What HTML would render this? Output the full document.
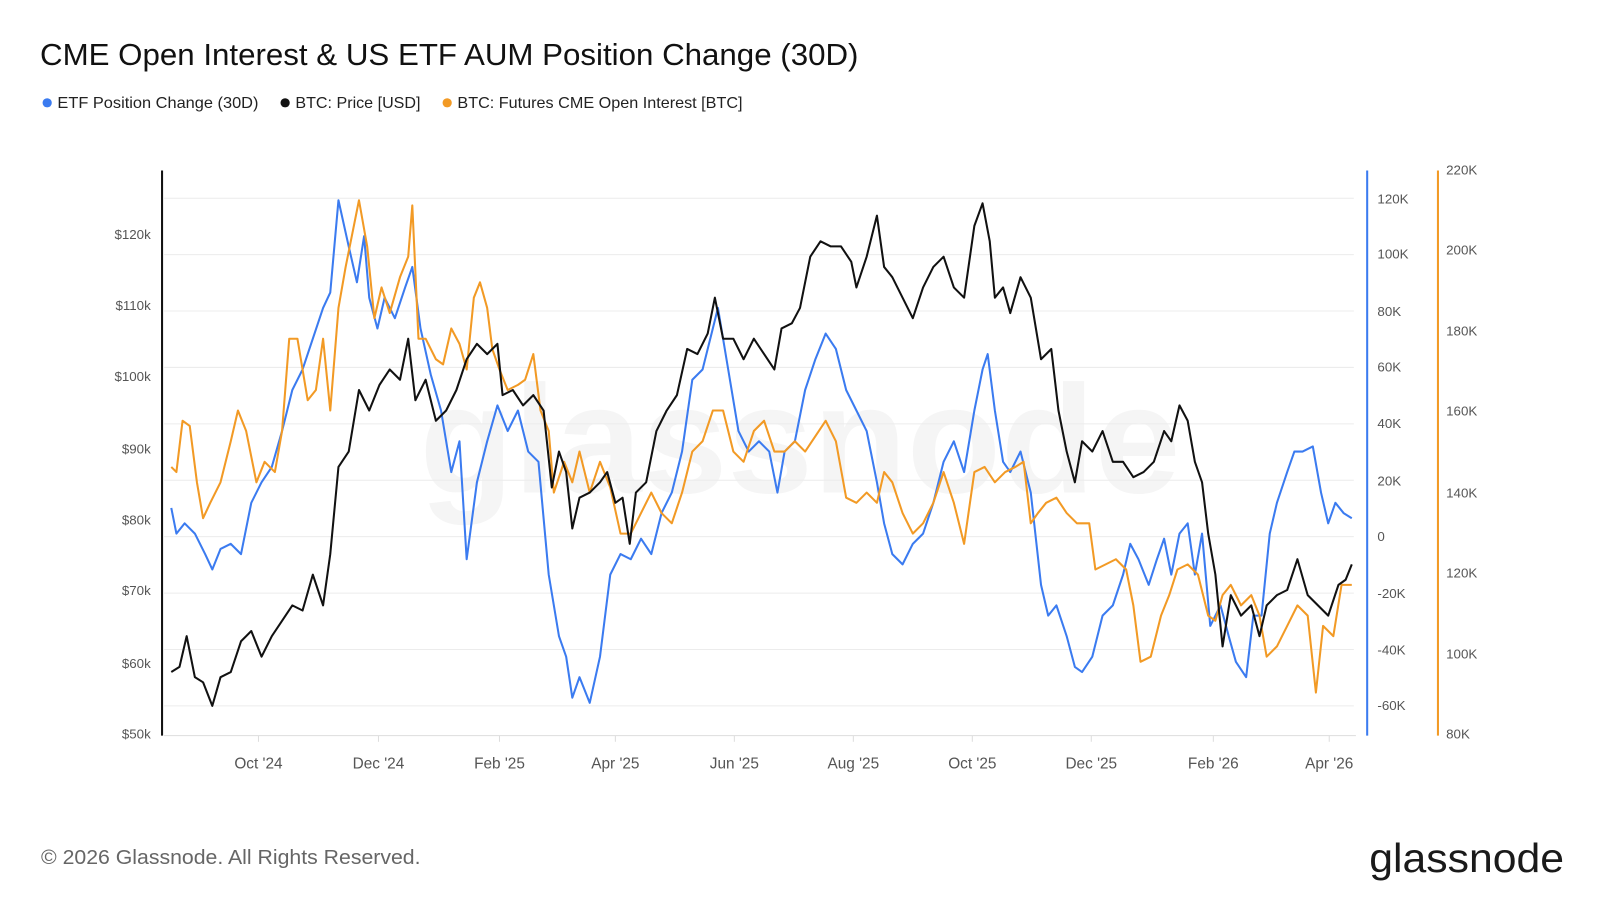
<!DOCTYPE html>
<html><head><meta charset="utf-8"><style>
html,body{margin:0;padding:0;background:#fff;width:1600px;height:900px;overflow:hidden}
svg{display:block}
text{font-family:"Liberation Sans","DejaVu Sans",sans-serif}
</style></head><body>
<svg width="1600" height="900" viewBox="0 0 1560 877" xmlns="http://www.w3.org/2000/svg">
<rect width="1560" height="877" fill="#fff"/>
<text x="39" y="63" font-size="30" fill="#111" textLength="798" lengthAdjust="spacingAndGlyphs">CME Open Interest &amp; US ETF AUM Position Change (30D)</text>
<g font-size="15" fill="#222">
<circle cx="46" cy="100" r="4.5" fill="#3b7bf0"/><text x="56" y="105" textLength="196" lengthAdjust="spacingAndGlyphs">ETF Position Change (30D)</text>
<circle cx="278" cy="100" r="4.5" fill="#111"/><text x="288" y="105" textLength="122" lengthAdjust="spacingAndGlyphs">BTC: Price [USD]</text>
<circle cx="436" cy="100" r="4.5" fill="#f29a25"/><text x="446" y="105" textLength="278" lengthAdjust="spacingAndGlyphs">BTC: Futures CME Open Interest [BTC]</text>
</g>
<text x="780" y="480" font-size="150" fill="#f5f5f5" text-anchor="middle" font-weight="bold">glassnode</text>
<g stroke="#ececec" stroke-width="1">
<line x1="160" y1="193" x2="1320" y2="193"/><line x1="160" y1="248" x2="1320" y2="248"/>
<line x1="160" y1="303" x2="1320" y2="303"/><line x1="160" y1="358" x2="1320" y2="358"/>
<line x1="160" y1="413" x2="1320" y2="413"/><line x1="160" y1="468" x2="1320" y2="468"/>
<line x1="160" y1="523" x2="1320" y2="523"/><line x1="160" y1="578" x2="1320" y2="578"/>
<line x1="160" y1="633" x2="1320" y2="633"/><line x1="160" y1="688" x2="1320" y2="688"/>
</g>
<line x1="160" y1="717" x2="1322" y2="717" stroke="#ddd"/>
<line x1="158" y1="166" x2="158" y2="717" stroke="#111" stroke-width="2"/>
<line x1="1333" y1="166" x2="1333" y2="717" stroke="#3b7bf0" stroke-width="2"/>
<line x1="1402" y1="166" x2="1402" y2="717" stroke="#f29a25" stroke-width="2"/>
<g font-size="13" fill="#555" text-anchor="end">
<text x="147" y="233">$120k</text><text x="147" y="302">$110k</text><text x="147" y="371">$100k</text>
<text x="147" y="442">$90k</text><text x="147" y="511">$80k</text><text x="147" y="580">$70k</text>
<text x="147" y="651">$60k</text><text x="147" y="720">$50k</text>
</g>
<g font-size="13" fill="#555">
<text x="1343" y="198">120K</text><text x="1343" y="252">100K</text><text x="1343" y="308">80K</text>
<text x="1343" y="362">60K</text><text x="1343" y="417">40K</text><text x="1343" y="473">20K</text>
<text x="1343" y="527">0</text><text x="1343" y="583">-20K</text><text x="1343" y="638">-40K</text>
<text x="1343" y="692">-60K</text>
<text x="1410" y="170">220K</text><text x="1410" y="248">200K</text><text x="1410" y="327">180K</text>
<text x="1410" y="405">160K</text><text x="1410" y="485">140K</text><text x="1410" y="563">120K</text>
<text x="1410" y="642">100K</text><text x="1410" y="720">80K</text>
</g>
<g font-size="15" fill="#555" text-anchor="middle">
<text x="252" y="749">Oct '24</text><text x="369" y="749">Dec '24</text><text x="487" y="749">Feb '25</text>
<text x="600" y="749">Apr '25</text><text x="716" y="749">Jun '25</text><text x="832" y="749">Aug '25</text>
<text x="948" y="749">Oct '25</text><text x="1064" y="749">Dec '25</text><text x="1183" y="749">Feb '26</text>
<text x="1296" y="749">Apr '26</text>
</g>
<g stroke="#ddd"><line x1="252" y1="717" x2="252" y2="723"/><line x1="369" y1="717" x2="369" y2="723"/><line x1="487" y1="717" x2="487" y2="723"/><line x1="600" y1="717" x2="600" y2="723"/><line x1="716" y1="717" x2="716" y2="723"/><line x1="832" y1="717" x2="832" y2="723"/><line x1="948" y1="717" x2="948" y2="723"/><line x1="1064" y1="717" x2="1064" y2="723"/><line x1="1183" y1="717" x2="1183" y2="723"/><line x1="1296" y1="717" x2="1296" y2="723"/></g>
<g fill="none" stroke-width="2" stroke-linejoin="round">
<polyline stroke="#3b7bf0" points="167,495 172,520 180,510 190,520 200,540 207,555 215,535 225,530 235,540 245,490 255,470 265,455 275,420 285,380 295,360 305,330 315,300 322,285 330,195 340,240 348,275 355,230 360,290 368,320 375,290 385,310 395,280 402,260 410,320 420,365 430,400 440,460 448,430 455,545 465,470 475,430 485,395 495,420 505,400 515,440 525,450 535,560 545,620 552,640 558,680 565,660 575,685 585,640 595,560 605,540 615,545 625,525 635,540 645,500 655,480 665,440 675,370 685,360 695,320 700,300 710,360 720,420 730,440 740,430 750,440 758,480 765,440 775,430 785,380 795,350 805,325 815,340 825,380 835,400 845,420 855,470 862,510 870,540 880,550 890,530 900,520 910,490 920,450 930,430 940,460 950,400 958,360 963,345 970,400 978,450 985,460 995,440 1005,480 1015,570 1022,600 1030,590 1040,620 1048,650 1055,655 1065,640 1075,600 1085,590 1095,560 1102,530 1110,545 1120,570 1128,545 1135,525 1142,560 1150,520 1158,510 1165,560 1172,520 1180,610 1190,590 1198,620 1205,645 1215,660 1222,600 1230,600 1238,520 1245,490 1255,460 1262,440 1270,440 1280,435 1288,480 1295,510 1302,490 1310,500 1318,505"/>
<polyline stroke="#f29a25" points="167,455 172,460 178,410 185,415 192,470 198,505 205,490 215,470 225,430 232,400 240,420 250,470 258,450 268,460 275,420 282,330 290,330 300,390 308,380 315,330 322,400 330,300 337,260 343,230 350,195 358,240 365,310 372,280 380,305 390,270 398,250 402,200 408,330 415,330 425,350 432,355 440,320 448,335 455,360 462,290 468,275 475,300 480,340 487,360 495,380 505,375 512,370 520,345 527,400 535,420 540,480 550,450 558,470 565,440 575,480 585,450 595,475 605,520 615,520 625,500 635,480 645,500 655,510 665,480 675,440 685,430 695,400 705,400 715,440 725,450 735,420 745,410 755,440 765,440 775,430 785,440 795,425 805,410 815,430 825,485 835,490 845,480 855,490 862,460 870,470 880,500 890,520 900,510 910,490 920,460 930,490 940,530 950,460 960,455 970,470 980,460 990,455 998,450 1005,510 1012,500 1020,490 1030,485 1040,500 1050,510 1062,510 1068,555 1078,550 1088,545 1098,555 1105,590 1112,645 1122,640 1132,600 1140,580 1148,555 1158,550 1168,560 1178,600 1185,605 1192,580 1200,570 1210,590 1220,580 1228,600 1235,640 1245,630 1255,610 1265,590 1275,600 1283,675 1290,610 1300,620 1308,570 1318,570"/>
<polyline stroke="#111" points="167,655 175,650 182,620 190,660 198,665 207,688 215,660 225,655 235,625 245,615 255,640 265,620 275,605 285,590 295,595 305,560 315,590 322,540 330,455 340,440 350,380 360,400 370,375 380,360 390,370 398,330 405,390 415,370 425,410 435,400 445,380 455,350 465,335 475,345 485,335 490,385 500,380 510,395 520,385 530,400 538,475 545,440 552,460 558,515 565,485 575,480 585,470 592,460 600,490 607,485 614,530 620,480 630,470 640,420 650,400 660,385 670,340 680,345 690,325 697,290 705,330 715,330 725,350 735,330 745,345 755,360 762,320 772,315 780,300 790,250 800,235 810,240 820,240 830,255 835,280 845,250 855,210 862,260 870,270 880,290 890,310 900,280 910,260 920,250 930,280 940,290 950,220 958,198 965,235 970,290 978,280 985,305 995,270 1005,290 1015,350 1025,340 1032,400 1040,440 1048,470 1055,430 1065,440 1075,420 1085,450 1095,450 1105,465 1115,460 1125,450 1135,420 1142,430 1150,395 1158,410 1165,450 1172,470 1178,520 1185,560 1192,630 1200,580 1210,600 1220,590 1228,620 1235,590 1245,580 1255,575 1265,545 1275,580 1285,590 1295,600 1305,570 1312,565 1318,550"/>
</g>
<text x="40" y="842" font-size="20" fill="#666" textLength="370" lengthAdjust="spacingAndGlyphs">© 2026 Glassnode. All Rights Reserved.</text>
<text x="1525" y="850" font-size="40" fill="#1a1a1a" text-anchor="end" textLength="190" lengthAdjust="spacingAndGlyphs">glassnode</text>
</svg>
</body></html>
